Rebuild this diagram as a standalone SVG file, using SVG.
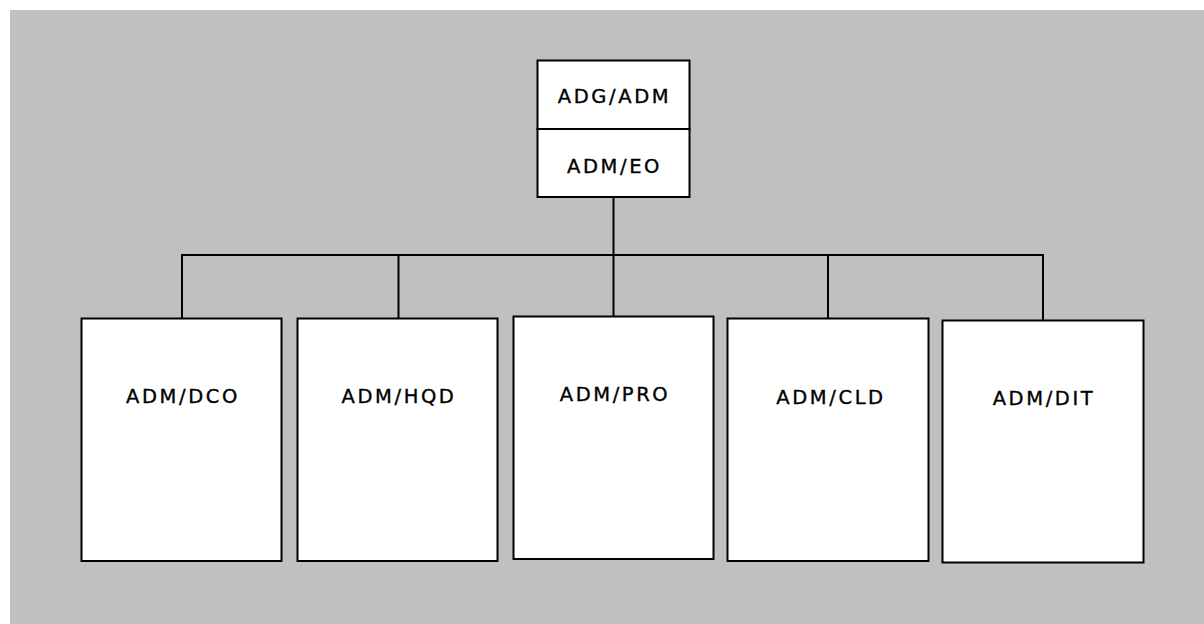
<svg xmlns="http://www.w3.org/2000/svg" width="1204" height="624" viewBox="0 0 1204 624">
  <style>
    .box { fill: #ffffff; stroke: #000000; stroke-width: 2; }
    .lbl { font-family: "DejaVu Sans", Verdana, sans-serif; font-size: 19.5px; fill: #000000; stroke: #000000; stroke-width: 0.35; text-anchor: middle; letter-spacing: 2.6px; }
    .con { fill: none; stroke: #000000; stroke-width: 2; }
  </style>
  <rect x="10" y="10" width="1194" height="614" fill="#c0c0c0"/>
  <g id="connectors">
    <line class="con" x1="613.5" y1="197" x2="613.5" y2="316"/>
    <polyline class="con" points="182,318 182,255 1043,255 1043,320"/>
    <line class="con" x1="398.5" y1="255" x2="398.5" y2="318"/>
    <line class="con" x1="828" y1="255" x2="828" y2="318"/>
  </g>
  <g id="node-adg">
    <rect class="box" x="537.5" y="60.5" width="152" height="68.5"/>
    <text class="lbl" x="614.5" y="103">ADG/ADM</text>
  </g>
  <g id="node-eo">
    <rect class="box" x="537.5" y="129" width="152" height="68"/>
    <text class="lbl" x="614.5" y="173">ADM/EO</text>
  </g>
  <g id="node-dco">
    <rect class="box" x="81.5" y="318.5" width="200" height="242.5"/>
    <text class="lbl" x="183" y="403">ADM/DCO</text>
  </g>
  <g id="node-hqd">
    <rect class="box" x="297.5" y="318.5" width="200" height="242.5"/>
    <text class="lbl" x="399" y="403">ADM/HQD</text>
  </g>
  <g id="node-pro">
    <rect class="box" x="513.5" y="316.5" width="200" height="242.5"/>
    <text class="lbl" x="615" y="401">ADM/PRO</text>
  </g>
  <g id="node-cld">
    <rect class="box" x="727.5" y="318.5" width="201" height="242.5"/>
    <text class="lbl" x="831" y="404">ADM/CLD</text>
  </g>
  <g id="node-dit">
    <rect class="box" x="942.5" y="320.5" width="201" height="242"/>
    <text class="lbl" x="1044" y="405">ADM/DIT</text>
  </g>
</svg>
